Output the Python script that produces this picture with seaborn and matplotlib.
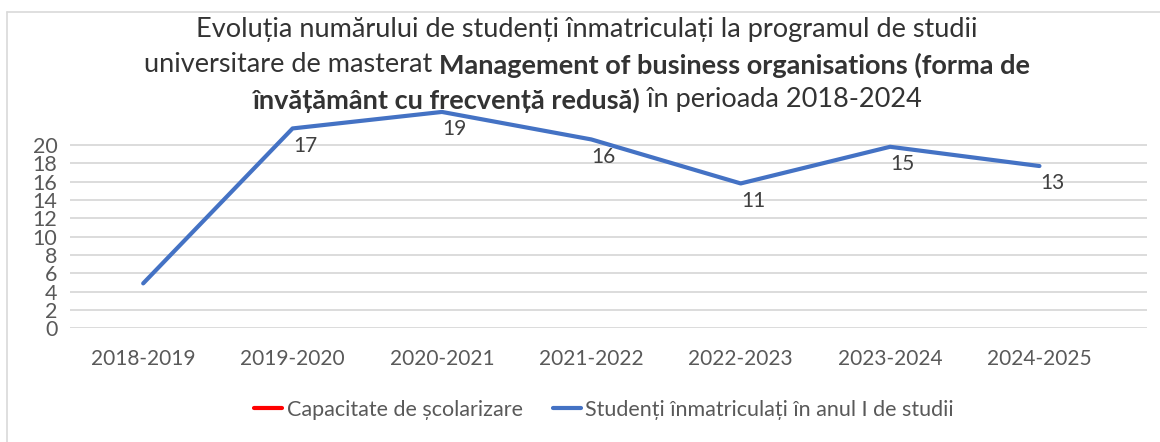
import matplotlib
matplotlib.use("Agg")
import matplotlib.pyplot as plt
from matplotlib.lines import Line2D
import seaborn as sns
import pandas as pd

# ---- data ----
categories = ["2018-2019", "2019-2020", "2020-2021", "2021-2022",
              "2022-2023", "2023-2024", "2024-2025"]
# line position as drawn on the chart's axis
line_values = [4.9, 21.8, 23.6, 20.6, 15.8, 19.8, 17.7]
# data labels shown next to the points
label_values = [None, 17, 19, 16, 11, 15, 13]
y_ticks = list(range(0, 21, 2))
series_names = ["Capacitate de școlarizare", "Studenți înmatriculați în anul I de studii"]

title_lines = [
    [("Evoluția numărului de studenți înmatriculați la programul de studii", "normal")],
    [("universitare de masterat ", "normal"),
     ("Management of business organisations (forma de", "bold")],
    [("învățământ cu frecvență redusă)", "bold"),
     (" în perioada 2018-2024", "normal")],
]

sns.set_theme(style="white")
plt.rcParams["font.family"] = ["Lato", "DejaVu Sans"]

W, H = 1160, 442
fig = plt.figure(figsize=(W / 100, H / 100), dpi=100)
ax = fig.add_axes([70 / W, 1 - 328.3 / H, 1077 / W, 229.2 / H])

df = pd.DataFrame({"cat": categories, "val": line_values})
sns.lineplot(data=df, x="cat", y="val", ax=ax, sort=False, color="#4472C4",
             linewidth=3.0, solid_joinstyle="round", solid_capstyle="round")

for i, lab in enumerate(label_values):
    if lab is None:
        continue
    ax.annotate(str(lab), (i, line_values[i]), xytext=(9, -12.5),
                textcoords="offset points", ha="center", va="center",
                fontsize=15, color="#404040")

ax.set_xlim(-0.49, 6.72)
ax.set_ylim(0, 25)
ax.set_yticks(y_ticks)
ax.set_yticklabels([str(t) for t in y_ticks])
for t in y_ticks:
    ax.axhline(t, color="#d9d9d9", lw=1.3, zorder=0)
ax.grid(False)
for s in ax.spines.values():
    s.set_visible(False)
ax.tick_params(axis="y", length=0, pad=9, labelsize=15.5, labelcolor="#595959")
ax.tick_params(axis="x", length=0, pad=15, labelsize=15, labelcolor="#595959")
ax.set_xlabel("")
ax.set_ylabel("")

# legend
handles = [Line2D([0], [0], color="#FF0000", lw=3),
           Line2D([0], [0], color="#4472C4", lw=3)]
fig.legend(handles, series_names, loc="center", bbox_to_anchor=(604 / W, 1 - 410 / H),
           ncol=2, frameon=False, fontsize=15.5, labelcolor="#595959",
           handlelength=1.3, handletextpad=0.2, columnspacing=1.4)

# border lines
fig.add_artist(Line2D([7 / W, 7 / W], [0, 1 - 12 / H], color="#d9d9d9", lw=1.2,
                      transform=fig.transFigure))
fig.add_artist(Line2D([7 / W, 1], [1 - 12 / H, 1 - 12 / H], color="#d9d9d9", lw=1.2,
                      transform=fig.transFigure))

# title with mixed weights
fig.canvas.draw()
renderer = fig.canvas.get_renderer()
cx = 587 / W
ys = [30, 65, 100]
for line, yp in zip(title_lines, ys):
    texts = []
    for seg, wt in line:
        t = fig.text(0, 1 - yp / H, seg, fontsize=19.5, fontweight=wt, color="#333333",
                     ha="left", va="center")
        texts.append(t)
    widths = [t.get_window_extent(renderer).width for t in texts]
    total = sum(widths)
    x = cx * W - total / 2
    for t, w in zip(texts, widths):
        t.set_x(x / W)
        x += w

fig.savefig("out.png", dpi=100)
